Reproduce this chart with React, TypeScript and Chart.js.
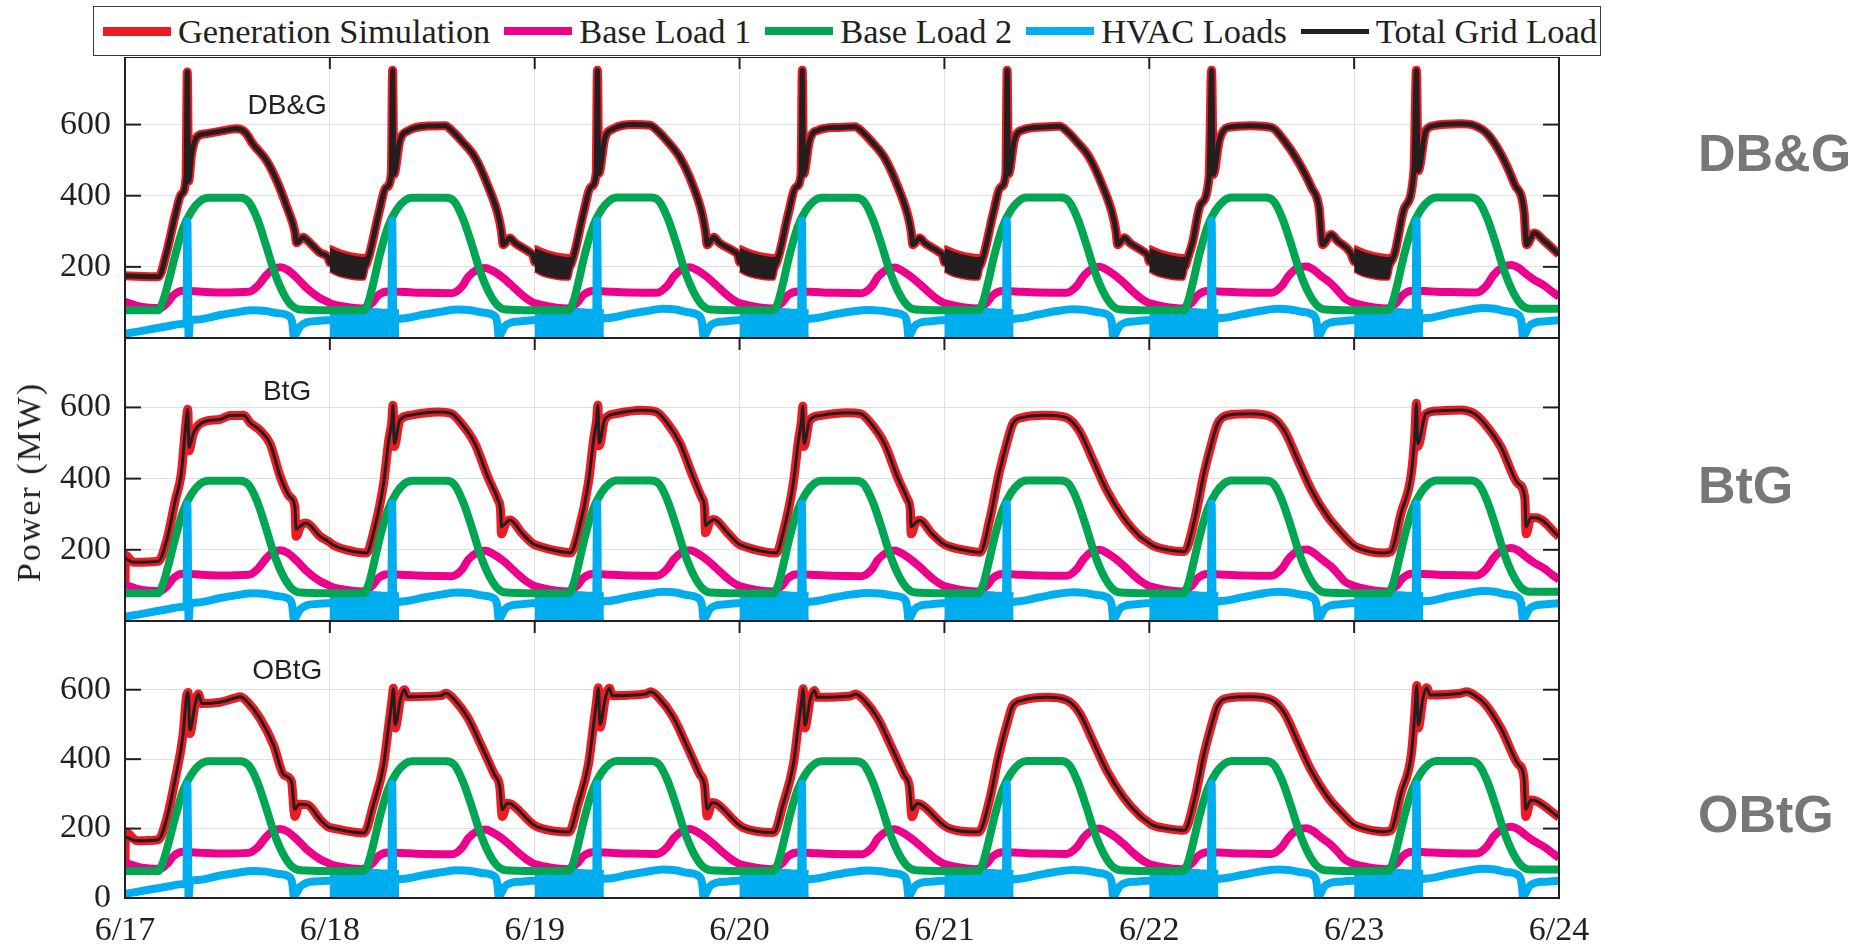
import React, { useEffect, useRef } from 'react';
import { Chart, registerables } from 'chart.js';

Chart.register(...registerables);

type P = [number, number];

// ---------- labels ----------
const xTickLabels = ['6/17', '6/18', '6/19', '6/20', '6/21', '6/22', '6/23', '6/24'];
const dayTickHours = [0, 24, 48, 72, 96, 120, 144, 168];
const yTicksUpper = [200, 400, 600];
const yTicksLower = [0, 200, 400, 600];
const yMax = [790, 795, 798];
const panelNames = ['DB&G', 'BtG', 'OBtG'];
const panelLabelHour = 19;
const panelLabelValues = [652, 643, 654];
const seriesNames = ['Generation Simulation', 'Base Load 1', 'Base Load 2', 'HVAC Loads', 'Total Grid Load'];

// ---------- data (hour of day, MW), one row per day ----------
const baseLoad1: P[][] = [
  [[0,102],[1.8,88],[4.1,84],[5.0,100],[5.7,121],[6.8,133],[9.0,130],[11.1,128],[14.5,130],[15.5,145],[16.5,175],[17.3,193],[18.2,199],[19.0,192],[20.0,172],[21.3,140],[22.9,111],[23.8,101]],
  [[0,98],[1.8,88],[3.7,83],[5.0,100],[5.7,121],[6.8,131],[9.0,129],[11.1,127],[14.3,126],[15.5,145],[16.2,172],[17.3,193],[18.2,197],[19.0,190],[20.1,173],[21.2,150],[22.1,130],[23.0,112],[23.8,100]],
  [[0,98],[1.8,88],[3.7,83],[5.0,100],[5.7,121],[6.8,132],[9.0,130],[11.1,128],[14.3,127],[15.5,146],[16.3,173],[17.3,194],[18.2,199],[19.0,191],[20.1,173],[21.2,150],[22.1,130],[23.0,112],[23.8,100]],
  [[0,98],[1.8,88],[3.7,83],[5.0,100],[5.7,121],[6.8,131],[9.0,129],[11.1,127],[14.3,126],[15.5,145],[16.2,172],[17.3,193],[18.2,198],[19.0,190],[20.1,172],[21.2,150],[22.1,130],[23.0,112],[23.8,100]],
  [[0,98],[1.8,88],[3.7,83],[5.0,100],[5.7,121],[6.8,132],[9.0,130],[11.1,128],[14.3,127],[15.5,146],[16.3,174],[17.3,195],[18.2,200],[19.0,192],[20.1,174],[21.2,151],[22.1,130],[23.0,112],[23.8,100]],
  [[0,98],[1.8,88],[3.7,83],[5.0,100],[5.7,121],[6.8,132],[9.0,130],[11.1,128],[14.3,127],[15.5,146],[16.3,174],[17.3,196],[18.4,201],[19.2,193],[20.1,175],[21.3,153],[22.2,130],[22.9,111],[23.8,100]],
  [[0,98],[1.8,88],[3.7,83],[5.0,100],[5.7,121],[6.8,133],[9.0,131],[11.1,129],[14.3,128],[15.5,147],[16.3,176],[17.3,198],[18.4,205],[19.2,198],[20.1,181],[21.0,165],[22.3,147],[23.2,130],[24,116]],
];

const baseLoad2: P[][] = [
  [[0,78],[3.9,78],[4.4,100],[4.9,140],[5.9,234],[6.8,309],[7.8,357],[8.8,385],[9.8,394],[13.5,394],[14.5,382],[15.5,335],[16.5,262],[17.5,185],[18.5,128],[19.5,92],[20.5,80],[23.8,78]],
  [[0,78],[4.0,78],[4.5,100],[5.0,145],[5.9,238],[6.8,312],[7.8,360],[8.8,387],[9.6,394],[13.6,394],[14.6,383],[15.6,335],[16.6,265],[17.6,188],[18.6,130],[19.6,93],[20.6,80],[23.8,78]],
  [[0,78],[4.0,78],[4.5,100],[5.0,145],[5.9,238],[6.8,312],[7.8,360],[8.8,387],[9.6,395],[13.6,395],[14.6,384],[15.6,336],[16.6,265],[17.6,188],[18.6,130],[19.6,93],[20.6,80],[23.8,78]],
  [[0,78],[4.0,78],[4.5,100],[5.0,145],[5.9,238],[6.8,312],[7.8,360],[8.8,387],[9.6,394],[13.6,394],[14.6,383],[15.6,335],[16.6,265],[17.6,188],[18.6,130],[19.6,93],[20.6,80],[23.8,78]],
  [[0,78],[4.0,78],[4.5,100],[5.0,145],[5.9,238],[6.8,312],[7.8,360],[8.8,387],[9.6,395],[13.6,395],[14.6,384],[15.6,336],[16.6,265],[17.6,188],[18.6,130],[19.6,93],[20.6,80],[23.8,78]],
  [[0,78],[4.0,78],[4.5,100],[5.0,145],[5.9,238],[6.8,312],[7.8,360],[8.8,387],[9.6,395],[13.6,395],[14.6,384],[15.6,336],[16.6,265],[17.6,188],[18.6,130],[19.6,93],[20.6,80],[23.8,78]],
  [[0,78],[4.0,78],[4.5,100],[5.0,145],[5.9,238],[6.8,312],[7.8,360],[8.8,387],[9.6,395],[13.6,395],[14.6,384],[15.6,336],[16.6,265],[17.6,188],[18.6,130],[19.6,93],[20.6,82],[24,82]],
];

const hvacLoads: P[][] = [
  [[0,12],[1.5,18],[3.3,26],[5,33],[6.8,40],[7.2,42],[7.3,328],[7.45,2],[7.6,46],[8.5,52],[11,64],[13,72],[15,78],[16.5,76],[17.8,70],[19.3,60],[19.6,42],[19.8,3],[20.1,15],[20.5,32],[21.3,44],[22.5,48],[23.6,50]],
  [[0,50],[3,48],[6,45],[7.2,46],[7.3,330],[7.45,2],[7.6,48],[8.5,55],[11,66],[13,74],[15,80],[16.5,78],[17.8,72],[19.3,62],[19.6,44],[19.8,3],[20.1,15],[20.5,33],[21.3,44],[22.5,47],[23.6,50]],
  [[0,50],[3,48],[6,45],[7.2,46],[7.3,330],[7.45,2],[7.6,48],[8.5,56],[11,67],[13,75],[15,82],[16.5,80],[17.8,73],[19.3,62],[19.6,44],[19.8,3],[20.1,15],[20.5,33],[21.3,44],[22.5,47],[23.6,50]],
  [[0,50],[3,48],[6,45],[7.2,46],[7.3,330],[7.45,2],[7.6,48],[8.5,55],[11,66],[13,74],[15,79],[16.5,77],[17.8,72],[19.3,62],[19.6,44],[19.8,3],[20.1,15],[20.5,33],[21.3,44],[22.5,47],[23.6,50]],
  [[0,50],[3,48],[6,45],[7.2,46],[7.3,330],[7.45,2],[7.6,48],[8.5,55],[11,66],[13,75],[15,81],[16.5,79],[17.8,73],[19.3,62],[19.6,44],[19.8,3],[20.1,15],[20.5,33],[21.3,44],[22.5,47],[23.6,50]],
  [[0,50],[3,48],[6,45],[7.2,46],[7.3,330],[7.45,2],[7.6,48],[8.5,56],[11,67],[13,76],[15,82],[16.5,80],[17.8,74],[19.3,63],[19.6,44],[19.8,3],[20.1,15],[20.5,33],[21.3,44],[22.5,47],[23.6,50]],
  [[0,50],[3,48],[6,45],[7.2,46],[7.3,330],[7.45,2],[7.6,48],[8.5,56],[11,68],[13,77],[15,84],[16.5,82],[17.8,75],[19.3,64],[19.6,45],[19.8,3],[20.1,15],[20.5,33],[21.3,44],[22.5,47],[24,50]],
];

// night-time fluctuation envelope of the HVAC loads (days 2..7)
const hvacBandNights = [1, 2, 3, 4, 5, 6];
const hvacBandUpper: P[] = [[0,84],[2,85],[4,83],[6,80],[8.1,78]];
const hvacBandLower: P[] = [[0,5],[8.1,5]];

const totalDBG: P[][] = [
  [[0,175],[3.9,172],[4.9,243],[5.9,347],[6.6,404],[7.15,450],[7.3,748],[7.45,441],[7.8,517],[8.4,564],[9.4,574],[11.1,581],[13.1,588],[14.1,578],[15.0,545],[16.6,498],[17.8,441],[19.0,366],[19.9,300],[20.1,268],[20.9,283],[21.3,276],[22.9,239],[23.8,226]],
  [[0,212],[2,205],[4.0,200],[4.6,232],[5.7,347],[6.6,423],[7.2,460],[7.35,753],[7.5,460],[8.2,555],[9.2,583],[11.5,596],[13.5,597],[14.5,578],[15.4,555],[17.0,508],[18.6,423],[19.7,347],[20.1,300],[20.3,262],[21.1,281],[21.7,267],[23.3,243],[23.8,232]],
  [[0,214],[2,206],[4.0,200],[4.6,234],[5.7,350],[6.6,425],[7.2,462],[7.35,753],[7.5,462],[8.2,560],[9.2,588],[11.5,600],[13.5,598],[14.5,580],[15.4,557],[17.0,508],[18.6,425],[19.6,350],[20.0,300],[20.2,262],[21.0,283],[21.6,268],[23.3,244],[23.8,233]],
  [[0,213],[2,205],[4.0,200],[4.6,232],[5.7,348],[6.6,424],[7.2,460],[7.35,753],[7.5,460],[8.2,556],[9.2,584],[11.5,592],[13.5,594],[14.5,577],[15.4,554],[17.0,506],[18.6,422],[19.7,346],[20.1,300],[20.3,262],[21.1,281],[21.7,267],[23.3,243],[23.8,232]],
  [[0,213],[2,205],[4.0,200],[4.6,233],[5.7,349],[6.6,424],[7.2,461],[7.35,753],[7.5,461],[8.2,557],[9.2,585],[11.5,593],[13.5,595],[14.5,578],[15.4,555],[17.0,507],[18.6,423],[19.7,347],[20.1,300],[20.3,262],[21.1,282],[21.7,268],[23.3,243],[23.8,232]],
  [[0,215],[2,207],[4.1,200],[4.6,232],[5.1,272],[6.0,375],[7.0,451],[7.3,753],[7.5,460],[8.2,555],[9.2,592],[11.9,597],[14.3,592],[15.8,555],[17.4,498],[19.0,423],[19.9,365],[20.3,262],[21.3,291],[22.1,272],[23.6,239]],
  [[0,215],[2,207],[3.5,200],[4.7,234],[5.9,366],[7.0,470],[7.3,753],[7.5,470],[8.4,583],[9.4,597],[12.5,602],[14.1,597],[15.6,574],[17.2,517],[18.8,432],[19.9,357],[20.2,262],[21.1,295],[22.3,272],[24,235]],
];

// night-time fluctuation envelope of the DB&G grid load (days 2..7)
const dbgBandNights = [1, 2, 3, 4, 5, 6];
const dbgBandUpper: P[] = [[0,258],[1,248],[2,240],[3,235],[4,232],[4.6,236]];
const dbgBandLower: P[] = [[0,188],[1,176],[2,170],[3,166],[4,165],[4.6,226]];

const totalBtG: P[][] = [
  [[0,177],[1,165],[3.9,168],[4.9,228],[5.9,340],[6.6,415],[7.0,520],[7.2,570],[7.35,595],[7.5,488],[8.0,527],[9.2,559],[11.1,566],[12.3,577],[13.9,578],[14.7,556],[15.8,536],[17.0,498],[18.2,405],[19.3,349],[19.9,321],[20.05,258],[20.6,268],[21.2,275],[22.9,237],[23.8,224]],
  [[0.5,212],[2.8,195],[4.3,191],[5.1,247],[6.3,387],[6.9,508],[7.25,560],[7.4,606],[7.55,498],[8.2,564],[9.4,578],[12.6,587],[14.2,583],[15.4,555],[17.0,498],[18.5,405],[19.7,340],[20.0,310],[20.1,265],[20.6,275],[21.1,284],[22.5,247],[23.8,217]],
  [[0.5,210],[2.8,196],[4.2,192],[5.1,250],[6.3,390],[6.9,510],[7.25,565],[7.4,607],[7.55,500],[8.2,566],[9.4,582],[12.6,592],[14.2,588],[15.4,560],[17.0,500],[18.5,408],[19.6,345],[19.9,318],[20.0,268],[20.5,278],[21.0,285],[22.5,250],[23.8,218]],
  [[0.5,210],[2.8,195],[4.3,191],[5.1,248],[6.3,388],[6.9,508],[7.25,562],[7.4,604],[7.55,498],[8.2,563],[9.4,577],[12.6,585],[14.2,582],[15.4,555],[17.0,497],[18.5,404],[19.7,340],[20.0,312],[20.1,265],[20.6,275],[21.1,283],[22.5,246],[23.8,218]],
  [[0.5,210],[2.8,197],[4.2,193],[5.3,284],[6.4,414],[7.4,508],[8.0,554],[9.2,572],[11.9,578],[14.3,571],[15.8,534],[17.4,452],[19.0,368],[20.9,293],[22.9,237],[23.8,222]],
  [[0.4,212],[2.1,200],[4.1,195],[5.3,284],[6.4,414],[7.4,508],[8.0,554],[9.2,578],[11.9,582],[14.3,573],[15.8,536],[17.4,452],[19.0,368],[20.9,293],[22.9,237],[23.8,215]],
  [[0.5,205],[3.5,191],[4.3,195],[5.5,303],[6.7,414],[7.1,520],[7.3,612],[7.45,498],[8.4,582],[9.8,590],[12.5,593],[14.1,582],[15.3,554],[17.2,489],[19.2,386],[20.0,345],[20.15,265],[20.7,290],[21.3,290],[24,237]],
];

const generationBtG: P[][] = [
  [[0,100],[0.05,185],[1,165],[3.9,168],[4.9,228],[5.9,340],[6.6,415],[7.0,520],[7.2,570],[7.35,595],[7.5,478],[8.0,527],[9.2,559],[11.1,566],[12.3,577],[13.9,578],[14.7,556],[15.8,536],[17.0,498],[18.2,405],[19.3,349],[19.9,321],[20.05,238],[20.6,268],[21.2,275],[22.9,237],[23.8,224]],
  [[0.5,212],[2.8,195],[4.3,191],[5.1,247],[6.3,387],[6.9,508],[7.25,560],[7.4,606],[7.55,490],[8.2,564],[9.4,578],[12.6,587],[14.2,583],[15.4,555],[17.0,498],[18.5,405],[19.7,340],[20.0,310],[20.1,245],[20.6,275],[21.1,284],[22.5,247],[23.8,217]],
  [[0.5,210],[2.8,196],[4.2,192],[5.1,250],[6.3,390],[6.9,510],[7.25,565],[7.4,607],[7.55,492],[8.2,566],[9.4,582],[12.6,592],[14.2,588],[15.4,560],[17.0,500],[18.5,408],[19.6,345],[19.9,318],[20.0,248],[20.5,278],[21.0,285],[22.5,250],[23.8,218]],
  [[0.5,210],[2.8,195],[4.3,191],[5.1,248],[6.3,388],[6.9,508],[7.25,562],[7.4,604],[7.55,490],[8.2,563],[9.4,577],[12.6,585],[14.2,582],[15.4,555],[17.0,497],[18.5,404],[19.7,340],[20.0,312],[20.1,245],[20.6,275],[21.1,283],[22.5,246],[23.8,218]],
  [[0.5,210],[2.8,197],[4.2,193],[5.3,284],[6.4,414],[7.4,508],[8.0,554],[9.2,572],[11.9,578],[14.3,571],[15.8,534],[17.4,452],[19.0,368],[20.9,293],[22.9,237],[23.8,222]],
  [[0.4,212],[2.1,200],[4.1,195],[5.3,284],[6.4,414],[7.4,508],[8.0,554],[9.2,578],[11.9,582],[14.3,573],[15.8,536],[17.4,452],[19.0,368],[20.9,293],[22.9,237],[23.8,215]],
  [[0.5,205],[3.5,191],[4.3,195],[5.5,303],[6.7,414],[7.1,520],[7.3,612],[7.45,490],[8.4,582],[9.8,590],[12.5,593],[14.1,582],[15.3,554],[17.2,489],[19.2,386],[20.0,345],[20.15,245],[20.7,290],[21.3,290],[24,237]],
];

const totalOBtG: P[][] = [
  [[0,177],[1.4,165],[3.9,168],[4.9,230],[5.9,345],[6.8,470],[7.2,580],[7.4,592],[7.6,484],[8.2,556],[8.6,588],[9.0,560],[11.1,564],[12.9,576],[13.5,580],[14.3,566],[15.8,518],[17.4,441],[18.6,355],[19.5,336],[19.9,255],[20.4,270],[21.3,269],[22.9,225],[23.8,205]],
  [[0.4,201],[4.0,187],[5.1,269],[6.3,384],[6.9,499],[7.3,575],[7.45,604],[7.65,499],[8.3,576],[8.75,600],[9.1,580],[13.0,583],[13.6,590],[14.6,571],[16.2,518],[17.7,441],[19.3,355],[19.9,321],[20.2,255],[20.8,273],[21.3,270],[23.8,212]],
  [[0.4,204],[4.0,190],[5.1,272],[6.3,386],[6.9,500],[7.3,578],[7.45,606],[7.65,500],[8.3,578],[8.75,604],[9.1,583],[13.0,588],[13.6,594],[14.6,575],[16.2,522],[17.7,445],[19.3,358],[19.9,323],[20.2,256],[20.8,275],[21.3,272],[23.8,213]],
  [[0.4,203],[4.0,189],[5.1,270],[6.3,385],[6.9,500],[7.3,576],[7.45,603],[7.65,498],[8.3,575],[8.75,598],[9.1,578],[13.0,582],[13.6,588],[14.6,570],[16.2,517],[17.7,440],[19.3,354],[19.9,320],[20.2,254],[20.8,272],[21.3,269],[23.8,212]],
  [[0.4,202],[4.0,190],[5.3,284],[6.4,414],[7.4,508],[8.0,554],[9.2,570],[11.9,578],[14.3,570],[15.8,534],[17.4,452],[19.0,368],[20.9,293],[22.9,237],[23.8,220]],
  [[0.4,210],[2.1,200],[4.1,195],[5.3,284],[6.4,414],[7.4,508],[8.0,554],[9.2,576],[11.9,580],[14.3,571],[15.8,534],[17.4,450],[19.0,366],[20.9,291],[22.9,236],[23.8,214]],
  [[0.5,205],[3.5,191],[4.3,195],[5.5,303],[6.7,414],[7.1,530],[7.35,612],[7.5,498],[8.1,580],[8.5,606],[8.9,585],[12.5,590],[13.2,594],[14.1,584],[15.3,560],[17.2,489],[19.2,386],[19.9,345],[20.1,255],[20.7,282],[21.3,280],[24,232]],
];

const generationOBtG: P[][] = [
  [[0,95],[0.05,190],[1.4,165],[3.9,168],[4.9,230],[5.9,345],[6.8,470],[7.2,580],[7.4,592],[7.6,474],[8.2,556],[8.6,588],[9.0,560],[11.1,564],[12.9,576],[13.5,580],[14.3,566],[15.8,518],[17.4,441],[18.6,355],[19.5,336],[19.9,235],[20.4,270],[21.3,269],[22.9,225],[23.8,205]],
  [[0.4,201],[4.0,187],[5.1,269],[6.3,384],[6.9,499],[7.3,575],[7.45,604],[7.65,490],[8.3,576],[8.75,600],[9.1,580],[13.0,583],[13.6,590],[14.6,571],[16.2,518],[17.7,441],[19.3,355],[19.9,321],[20.2,235],[20.8,273],[21.3,270],[23.8,212]],
  [[0.4,204],[4.0,190],[5.1,272],[6.3,386],[6.9,500],[7.3,578],[7.45,606],[7.65,492],[8.3,578],[8.75,604],[9.1,583],[13.0,588],[13.6,594],[14.6,575],[16.2,522],[17.7,445],[19.3,358],[19.9,323],[20.2,236],[20.8,275],[21.3,272],[23.8,213]],
  [[0.4,203],[4.0,189],[5.1,270],[6.3,385],[6.9,500],[7.3,576],[7.45,603],[7.65,490],[8.3,575],[8.75,598],[9.1,578],[13.0,582],[13.6,588],[14.6,570],[16.2,517],[17.7,440],[19.3,354],[19.9,320],[20.2,234],[20.8,272],[21.3,269],[23.8,212]],
  [[0.4,202],[4.0,190],[5.3,284],[6.4,414],[7.4,508],[8.0,554],[9.2,570],[11.9,578],[14.3,570],[15.8,534],[17.4,452],[19.0,368],[20.9,293],[22.9,237],[23.8,220]],
  [[0.4,210],[2.1,200],[4.1,195],[5.3,284],[6.4,414],[7.4,508],[8.0,554],[9.2,576],[11.9,580],[14.3,571],[15.8,534],[17.4,450],[19.0,366],[20.9,291],[22.9,236],[23.8,214]],
  [[0.5,205],[3.5,191],[4.3,195],[5.5,303],[6.7,414],[7.1,530],[7.35,612],[7.5,490],[8.1,580],[8.5,606],[8.9,585],[12.5,590],[13.2,594],[14.1,584],[15.3,560],[17.2,489],[19.2,386],[19.9,345],[20.1,235],[20.7,282],[21.3,280],[24,232]],
];

// In DB&G the generation trace coincides with the total grid load
const generationDBG = totalDBG;

// ---------- styles ----------
const RED = '#ed1c24';
const MAGENTA = '#ec008c';
const GREEN = '#00a651';
const BLUE = '#00aeef';
const BLACK = '#231f20';
const GRID = '#e0e0e0';
const SERIF = '"Liberation Serif", "Times New Roman", serif';
const SANS = '"Liberation Sans", Arial, sans-serif';
const seriesColors = [RED, MAGENTA, GREEN, BLUE, BLACK];
const legendSwatchHeights = [9, 8, 8, 8, 5];

const toXY = (days: P[][]) => days.flatMap((pts, d) => pts.map(([h, v]) => ({ x: d * 24 + h, y: v })));
const nightXY = (pts: P[], d: number) => pts.map(([h, v]) => ({ x: d * 24 + h, y: v }));

const panels = [
  { gen: generationDBG, total: totalDBG, noise: true, blackWidth: 5 },
  { gen: generationBtG, total: totalBtG, noise: false, blackWidth: 3 },
  { gen: generationOBtG, total: totalOBtG, noise: false, blackWidth: 3 },
];

function buildDatasets(i: number): any[] {
  const p = panels[i];
  const ds: any[] = [];
  ds.push({ label: seriesNames[0], data: toXY(p.gen), borderColor: RED, borderWidth: 9, order: 9 });
  ds.push({ label: seriesNames[1], data: toXY(baseLoad1), borderColor: MAGENTA, borderWidth: 8, order: 8 });
  hvacBandNights.forEach((d) => {
    ds.push({ label: '', data: nightXY(hvacBandUpper, d), borderColor: BLUE, borderWidth: 2, backgroundColor: BLUE, fill: '+1', order: 7, cubicInterpolationMode: 'default', tension: 0 });
    ds.push({ label: '', data: nightXY(hvacBandLower, d), borderColor: BLUE, borderWidth: 2, order: 7, cubicInterpolationMode: 'default', tension: 0 });
  });
  ds.push({ label: seriesNames[2], data: toXY(baseLoad2), borderColor: GREEN, borderWidth: 8, order: 6 });
  ds.push({ label: seriesNames[3], data: toXY(hvacLoads), borderColor: BLUE, borderWidth: 8, order: 5 });
  if (p.noise) {
    dbgBandNights.forEach((d) => {
      ds.push({ label: '', data: nightXY(dbgBandUpper, d), borderColor: RED, borderWidth: 3, backgroundColor: BLACK, fill: '+1', order: 3 });
      ds.push({ label: '', data: nightXY(dbgBandLower, d), borderColor: RED, borderWidth: 3, order: 3 });
    });
  }
  ds.push({ label: seriesNames[4], data: toXY(p.total), borderColor: BLACK, borderWidth: p.blackWidth, order: 1 });
  return ds;
}

const framePlugin = {
  id: 'frame',
  afterDraw(chart: any, _args: any, opts: any) {
    const { ctx, chartArea: a, scales } = chart;
    const line = (x1: number, y1: number, x2: number, y2: number) => {
      ctx.beginPath(); ctx.moveTo(x1, y1); ctx.lineTo(x2, y2); ctx.stroke();
    };
    ctx.save();
    ctx.strokeStyle = BLACK;
    ctx.lineWidth = 2;
    ctx.strokeRect(a.left, a.top, a.right - a.left, a.bottom - a.top);
    scales.y.ticks.forEach((t: any) => {
      const y = scales.y.getPixelForValue(t.value);
      line(a.left, y, a.left + 16, y);
      line(a.right - 16, y, a.right, y);
    });
    scales.x.ticks.forEach((t: any) => {
      const x = scales.x.getPixelForValue(t.value);
      line(x, a.top, x, a.top + 12);
    });
    ctx.font = '28px ' + SANS;
    ctx.fillStyle = BLACK;
    ctx.textAlign = 'center';
    ctx.textBaseline = 'middle';
    ctx.fillText(opts.label, scales.x.getPixelForValue(opts.hour), scales.y.getPixelForValue(opts.value));
    ctx.restore();
  },
};

const CANVAS_W = 1620;
const RIGHT_PAD = 61;
const canvasTops = [57, 338, 621];
const canvasHeights = [281, 283, 327];

function makeConfig(i: number): any {
  const bottom = i === 2;
  return {
    type: 'line',
    data: { datasets: buildDatasets(i) },
    options: {
      animation: false,
      responsive: false,
      events: [],
      layout: { padding: { left: 0, right: RIGHT_PAD, top: 0, bottom: 0 } },
      elements: {
        point: { radius: 0, hoverRadius: 0 },
        line: { cubicInterpolationMode: 'monotone', borderJoinStyle: 'round', fill: false },
      },
      plugins: {
        legend: { display: false },
        tooltip: { enabled: false },
        frame: { label: panelNames[i], hour: panelLabelHour, value: panelLabelValues[i] },
      },
      scales: {
        x: {
          type: 'linear',
          min: 0,
          max: 168,
          afterBuildTicks: (s: any) => { s.ticks = dayTickHours.map((v) => ({ value: v })); },
          afterFit: (s: any) => { s.height = bottom ? 50 : 0; s.paddingLeft = 0; s.paddingRight = 0; },
          ticks: {
            display: bottom,
            autoSkip: false,
            maxRotation: 0,
            padding: 13,
            color: BLACK,
            font: { family: SERIF, size: 34 },
            callback: (v: number) => xTickLabels[Math.round(v / 24)],
          },
          grid: { color: GRID, lineWidth: 1, drawTicks: false },
          border: { display: false },
        },
        y: {
          type: 'linear',
          min: 0,
          max: yMax[i],
          afterBuildTicks: (s: any) => { s.ticks = (bottom ? yTicksLower : yTicksUpper).map((v) => ({ value: v })); },
          afterFit: (s: any) => { s.width = 125; s.paddingTop = 0; s.paddingBottom = 0; },
          ticks: { padding: 14, color: BLACK, font: { family: SERIF, size: 34 } },
          grid: { color: GRID, lineWidth: 1, drawTicks: false },
          border: { display: false },
        },
      },
    },
    plugins: [framePlugin],
  };
}

export default function App() {
  const r0 = useRef<HTMLCanvasElement>(null);
  const r1 = useRef<HTMLCanvasElement>(null);
  const r2 = useRef<HTMLCanvasElement>(null);
  const refs = [r0, r1, r2];

  useEffect(() => {
    const charts = refs.map((r, i) => new Chart(r.current as HTMLCanvasElement, makeConfig(i)));
    return () => charts.forEach((c) => c.destroy());
  }, []);

  const rightLabelCenters = [153, 485, 814];

  return (
    <div style={{ position: 'absolute', left: 0, top: 0, width: 1865, height: 948, background: '#fff', overflow: 'hidden' }}>
      {refs.map((r, i) => (
        <canvas
          key={i}
          ref={r}
          width={CANVAS_W}
          height={canvasHeights[i]}
          style={{ position: 'absolute', left: 0, top: canvasTops[i], width: CANVAS_W, height: canvasHeights[i] }}
        />
      ))}
      <div
        style={{
          position: 'absolute', left: 93, top: 6, width: 1508, height: 50, boxSizing: 'border-box',
          border: '1.5px solid #3a3a3a', background: '#fff', display: 'flex', alignItems: 'center', paddingLeft: 9,
          fontFamily: SERIF, fontSize: 34.4, color: BLACK, whiteSpace: 'nowrap',
        }}
      >
        {seriesNames.map((n, i) => (
          <span key={n} style={{ display: 'flex', alignItems: 'center', marginRight: 14 }}>
            <span style={{ display: 'inline-block', width: 68, height: legendSwatchHeights[i], background: seriesColors[i], marginRight: 7 }} />
            <span style={{ lineHeight: 1 }}>{n}</span>
          </span>
        ))}
      </div>
      <div
        style={{
          position: 'absolute', left: 29, top: 482, transform: 'translate(-50%, -50%) rotate(-90deg)',
          fontFamily: SERIF, fontSize: 34, letterSpacing: 2, whiteSpace: 'nowrap', color: BLACK, lineHeight: 1,
        }}
      >
        Power (MW)
      </div>
      {panelNames.map((n, i) => (
        <div
          key={n}
          style={{
            position: 'absolute', left: 1698, top: rightLabelCenters[i], transform: 'translateY(-50%)',
            fontFamily: SANS, fontWeight: 'bold', fontSize: 52, color: '#777777', lineHeight: 1, whiteSpace: 'nowrap',
          }}
        >
          {n}
        </div>
      ))}
    </div>
  );
}
